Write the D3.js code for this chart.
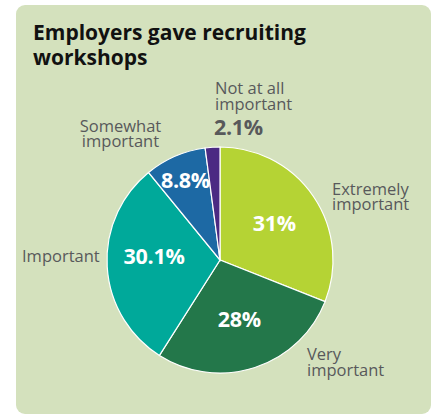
<!DOCTYPE html>
<html>
<head>
<meta charset="utf-8">
<script src="https://cdn.jsdelivr.net/npm/d3@7/dist/d3.min.js"></script>
<style>
  html, body { margin: 0; padding: 0; background: #ffffff; }
  svg { display: block; }
</style>
</head>
<body>
<svg id="chart" width="433" height="417"></svg>
<script>
// Survey responses: how important recruiting workshops were
const categories = ["Extremely important", "Very important", "Important", "Somewhat important", "Not at all important"];
const shares = [31, 28, 30.1, 8.8, 2.1];
const valueLabels = ["31%", "28%", "30.1%", "8.8%", "2.1%"];
const colors = ["#b5d334", "#23774a", "#00a99a", "#1d69a4", "#4b2a83"];

const svg = d3.select("#chart");
const font = "'Open Sans', 'Noto Sans', sans-serif";

// panel background
svg.append("rect")
  .attr("x", 16).attr("y", 5)
  .attr("width", 415).attr("height", 409)
  .attr("rx", 9).attr("ry", 9)
  .attr("fill", "#d4e1bd");

// title
const title = svg.append("text")
  .attr("font-family", font)
  .attr("font-weight", 700)
  .attr("font-size", 21)
  .attr("fill", "#111111");
title.append("tspan").attr("x", 33).attr("y", 40).text("Employers gave recruiting");
title.append("tspan").attr("x", 33).attr("y", 65).text("workshops");

// pie
const cx = 220, cy = 260, R = 113;
const data = categories.map((c, i) => ({ category: c, value: shares[i], label: valueLabels[i], color: colors[i] }));
const pie = d3.pie().value(d => d.value).sort(null);
const arcs = pie(data);
const arc = d3.arc().innerRadius(0).outerRadius(R);

const g = svg.append("g").attr("transform", `translate(${cx},${cy})`);
g.selectAll("path.slice")
  .data(arcs)
  .join("path")
  .attr("class", "slice")
  .attr("d", arc)
  .attr("fill", d => d.data.color)
  .attr("stroke", "#ffffff")
  .attr("stroke-width", 1.2);

// value labels inside slices (the thin last slice gets its value outside)
const labelRadius = [0.58, 0.55, 0.585, 0.77];
const labelNudgeY = [0, 0, -7, 0];
arcs.forEach((a, i) => {
  if (i >= labelRadius.length) return;
  const r = R * labelRadius[i];
  const ang = (a.startAngle + a.endAngle) / 2;
  g.append("text")
    .attr("x", r * Math.sin(ang))
    .attr("y", -r * Math.cos(ang) + labelNudgeY[i])
    .attr("dy", "0.35em")
    .attr("text-anchor", "middle")
    .attr("font-family", font)
    .attr("font-weight", 700)
    .attr("font-size", 21.5)
    .attr("letter-spacing", -0.3)
    .attr("fill", "#ffffff")
    .text(a.data.label);
});

// category labels around the pie
function catLabel(lines, x, y, lead, anchor) {
  const t = svg.append("text")
    .attr("font-family", font)
    .attr("font-size", 16.5)
    .attr("text-anchor", anchor || "start")
    .attr("fill", "#58595b");
  lines.forEach((ln, k) => t.append("tspan").attr("x", x).attr("y", y + k * lead).text(ln));
  return t;
}
catLabel(["Extremely", "important"], 332, 195, 14.5);
catLabel(["Very", "important"], 307, 360, 15.5);
catLabel(["Important"], 22, 262, 15);
catLabel(["Somewhat", "important"], 120.5, 132, 15, "middle");
catLabel(["Not at all", "important"], 215, 94, 15.5);

// value for the thin slice, placed beneath its category label
svg.append("text")
  .attr("x", 214).attr("y", 135)
  .attr("font-family", font)
  .attr("font-weight", 700)
  .attr("font-size", 21.5)
  .attr("letter-spacing", -0.3)
  .attr("fill", "#58595b")
  .text(valueLabels[4]);
</script>
</body>
</html>
